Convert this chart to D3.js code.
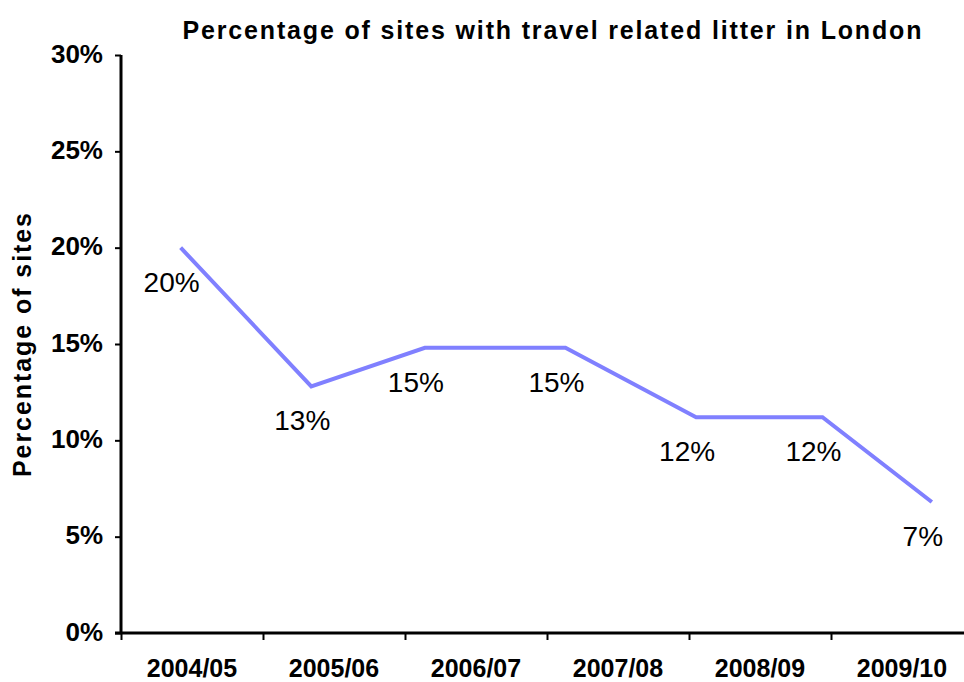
<!DOCTYPE html>
<html>
<head>
<meta charset="utf-8">
<script src="https://cdn.jsdelivr.net/npm/d3@7"></script>
<style>
  body { margin: 0; background: #fff; }
  svg { display: block; font-family: 'Liberation Sans', Arial, sans-serif; }
</style>
</head>
<body>
<svg id="chart" width="964" height="682"></svg>
<script>
const categories = ['2004/05', '2005/06', '2006/07', '2007/08', '2008/09', '2009/10']
const yTicks = [0, 5, 10, 15, 20, 25, 30]
const pointPos = [0.42, 1.34, 2.14, 3.13, 4.05, 4.94, 5.71]
const values = [20, 12.8, 14.8, 14.8, 11.2, 11.2, 6.8]
const valueLabels = ['20%', '13%', '15%', '15%', '12%', '12%', '7%']

const margin = {top: 55, right: -9, bottom: 49, left: 121}
const svg = d3.select('#chart')
const width = +svg.attr('width') - margin.left - margin.right
const height = +svg.attr('height') - margin.top - margin.bottom

const g = svg.append('g')
  .attr('transform', `translate(${margin.left}, ${margin.top})`)

const xBand = d3.scaleBand()
  .domain(categories)
  .range([0, width])

const xPos = d3.scaleLinear()
  .domain([0, categories.length])
  .range([0, width])

const yScale = d3.scaleLinear()
  .domain([0, 30])
  .range([height, 0])

// title
svg.append('text')
  .attr('x', 552)
  .attr('y', 39)
  .attr('text-anchor', 'middle')
  .attr('textLength', 739)
  .attr('lengthAdjust', 'spacing')
  .style('font-size', '25px')
  .style('font-weight', 'bold')
  .text('Percentage of sites with travel related litter in London')

// y axis title
svg.append('text')
  .attr('transform', 'rotate(-90)')
  .attr('x', -(margin.top + 290))
  .attr('y', 31)
  .attr('text-anchor', 'middle')
  .attr('textLength', 264)
  .attr('lengthAdjust', 'spacing')
  .style('font-size', '25px')
  .style('font-weight', 'bold')
  .text('Percentage of sites')

// y axis
const yAxis = g.append('g')
  .call(d3.axisLeft(yScale)
    .tickValues(yTicks)
    .tickSize(6)
    .tickPadding(12)
    .tickFormat(d => d + '%'))
yAxis.select('.domain').attr('stroke-width', 3).attr('d', `M0,${height}V0`)
yAxis.selectAll('.tick line').attr('stroke-width', 2)
yAxis.selectAll('.tick text')
  .attr('dy', '0.28em')
  .style('font-size', '26px')
  .style('font-weight', 'bold')
  .attr('fill', '#000')

// x axis: ticks sit on the band edges
const xAxis = g.append('g')
  .attr('transform', `translate(0, ${height})`)
  .call(d3.axisBottom(xPos)
    .tickValues(d3.range(categories.length + 1))
    .tickSize(7)
    .tickFormat(''))
xAxis.select('.domain').attr('stroke-width', 3).attr('d', `M-6,0H${width}`)
xAxis.selectAll('.tick line').attr('stroke-width', 2)

g.append('g')
  .selectAll('text')
  .data(categories)
  .join('text')
  .attr('x', d => xBand(d) + xBand.bandwidth() / 2)
  .attr('y', height + 44)
  .attr('text-anchor', 'middle')
  .style('font-size', '25px')
  .style('font-weight', 'bold')
  .text(d => d)

// line
const line = d3.line()
  .x((d, i) => xPos(pointPos[i]))
  .y(d => yScale(d))

g.append('path')
  .datum(values)
  .attr('fill', 'none')
  .attr('stroke', '#8080ff')
  .attr('stroke-width', 4)
  .attr('d', line)

// value labels
g.append('g')
  .selectAll('text')
  .data(values)
  .join('text')
  .attr('x', (d, i) => xPos(pointPos[i]) - 9)
  .attr('y', d => yScale(d) + 44)
  .attr('text-anchor', 'middle')
  .style('font-size', '28px')
  .text((d, i) => valueLabels[i])
</script>
</body>
</html>
